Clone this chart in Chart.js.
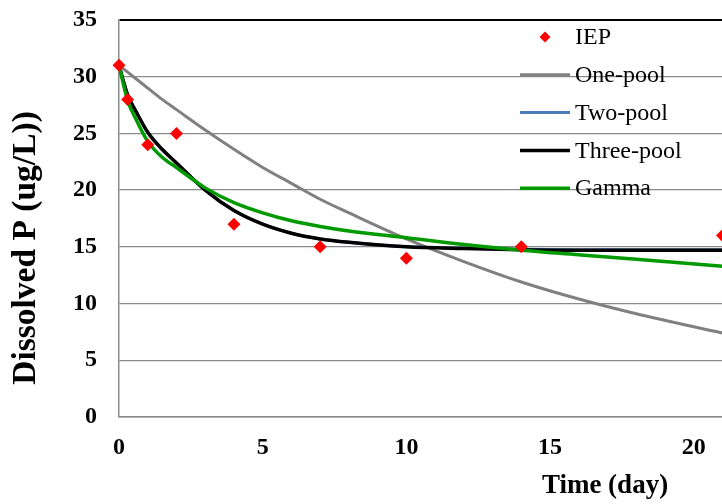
<!DOCTYPE html>
<html>
<head>
<meta charset="utf-8">
<script src="https://cdn.jsdelivr.net/npm/chart.js@4"></script>
<style>
  html, body { margin: 0; padding: 0; background: #fff; overflow: hidden; }
  #wrap { width: 722px; height: 504px; overflow: hidden; }
</style>
</head>
<body>
<div id="wrap"><canvas id="pChart" width="729" height="504"></canvas></div>
<script>
// measured IEP points
const iepDays = [0, 0.3, 1, 2, 4, 7, 10, 14, 21];
const iepValues = [31, 28, 24, 25, 17, 15, 14, 15, 16];

// model curves
const curveDays = [0, 0.3, 0.6, 1, 1.5, 2, 3, 4, 5, 6, 7, 8, 10, 12, 14, 16, 18, 21];
const onePool   = [31, 30.4, 29.8, 29.0, 28.0, 27.1, 25.3, 23.6, 22.0, 20.6, 19.2, 18.0, 15.7, 13.7, 11.9, 10.4, 9.1, 7.4];
const twoPool   = [31, 28.4, 26.9, 25.1, 23.6, 22.4, 20.0, 18.2, 17.0, 16.2, 15.7, 15.4, 15.0, 14.88, 14.78, 14.75, 14.75, 14.75];
const threePool = [31, 28.4, 26.9, 25.1, 23.6, 22.4, 20.0, 18.2, 17.0, 16.2, 15.7, 15.4, 15.0, 14.85, 14.75, 14.7, 14.7, 14.7];
const gamma     = [31, 27.9, 26.2, 24.3, 22.9, 22.0, 20.2, 18.9, 18.0, 17.3, 16.8, 16.4, 15.8, 15.2, 14.7, 14.3, 13.9, 13.3];

const yTicks = [0, 5, 10, 15, 20, 25, 30, 35];
const xTicks = [0, 5, 10, 15, 20];

const serif = "'Liberation Serif', 'Times New Roman', serif";
const noColor = 'rgba(0,0,0,0)';

function toPoints(xs, ys) {
    return xs.map((x, i) => ({ x: x, y: ys[i] }));
}

function curve(label, values, color, width, order) {
    return {
        type: 'line',
        label: label,
        data: toPoints(curveDays, values),
        borderColor: color,
        backgroundColor: color,
        borderWidth: width,
        pointRadius: 0,
        cubicInterpolationMode: 'monotone',
        fill: false,
        order: order
    };
}

// legend sits inside the plot, drawn by hand
const insideLegend = {
    id: 'insideLegend',
    afterDraw(chart) {
        const ctx = chart.ctx;
        ctx.save();
        ctx.font = '24px ' + serif;
        ctx.textBaseline = 'middle';
        ctx.textAlign = 'left';
        chart.data.datasets.forEach((ds, i) => {
            const y = 37 + i * 37.8;
            if (ds.type === 'scatter') {
                ctx.fillStyle = ds.backgroundColor;
                ctx.beginPath();
                ctx.moveTo(545, y - 5.5);
                ctx.lineTo(550.5, y);
                ctx.lineTo(545, y + 5.5);
                ctx.lineTo(539.5, y);
                ctx.closePath();
                ctx.fill();
            } else {
                ctx.strokeStyle = ds.borderColor;
                ctx.lineWidth = ds.borderWidth;
                ctx.beginPath();
                ctx.moveTo(520, y);
                ctx.lineTo(570, y);
                ctx.stroke();
            }
            ctx.fillStyle = '#000';
            ctx.fillText(ds.label, 575, y + 1);
        });
        ctx.restore();
    }
};

// axis titles placed where the original has them
const axisTitles = {
    id: 'axisTitles',
    afterDraw(chart) {
        const ctx = chart.ctx;
        ctx.save();
        ctx.fillStyle = '#000';
        ctx.textAlign = 'center';
        ctx.textBaseline = 'middle';
        ctx.font = 'bold 27px ' + serif;
        ctx.fillText('Time (day)', 605, 486);
        ctx.translate(26, 248);
        ctx.rotate(-Math.PI / 2);
        ctx.font = 'bold 33.5px ' + serif;
        ctx.fillText('Dissolved P (ug/L))', 0, 0);
        ctx.restore();
    }
};

const ctx = document.getElementById('pChart').getContext('2d');

new Chart(ctx, {
    data: {
        datasets: [
            {
                type: 'scatter',
                label: 'IEP',
                data: toPoints(iepDays, iepValues),
                backgroundColor: '#ff0000',
                borderColor: '#ff0000',
                borderWidth: 0,
                pointStyle: 'rectRot',
                pointRadius: 6.5,
                clip: false,
                order: 0
            },
            curve('One-pool', onePool, '#808080', 3, 4),
            curve('Two-pool', twoPool, '#4a7ebb', 3, 3),
            curve('Three-pool', threePool, '#000000', 3.5, 2),
            curve('Gamma', gamma, '#009a00', 3.5, 1)
        ]
    },
    options: {
        responsive: false,
        animation: false,
        devicePixelRatio: 1,
        layout: { padding: { left: 0, top: 20, right: 0, bottom: 0 } },
        plugins: {
            legend: { display: false },
            tooltip: { enabled: false }
        },
        scales: {
            x: {
                type: 'linear',
                min: 0,
                max: 21,
                afterBuildTicks(scale) {
                    scale.ticks = xTicks.map(v => ({ value: v }));
                },
                afterFit(scale) { scale.height = 87; },
                ticks: {
                    font: { family: serif, size: 24, weight: 'bold' },
                    color: '#000',
                    padding: 0
                },
                grid: {
                    drawOnChartArea: false,
                    drawTicks: true,
                    tickLength: 16,
                    tickColor: noColor
                },
                border: { color: '#8a8a8a', width: 1.5 }
            },
            y: {
                min: 0,
                max: 35,
                afterBuildTicks(scale) {
                    scale.ticks = yTicks.map(v => ({ value: v }));
                },
                afterFit(scale) { scale.width = 119; },
                ticks: {
                    font: { family: serif, size: 24, weight: 'bold' },
                    color: '#000',
                    padding: 0
                },
                grid: {
                    drawTicks: true,
                    tickLength: 22,
                    tickColor: noColor,
                    color: c => c.tick && c.tick.value === 35 ? '#000' : '#8a8a8a',
                    lineWidth: c => c.tick && c.tick.value === 35 ? 2 : 1.3
                },
                border: { color: '#8a8a8a', width: 1.5 }
            }
        }
    },
    plugins: [insideLegend, axisTitles]
});
</script>
</body>
</html>
